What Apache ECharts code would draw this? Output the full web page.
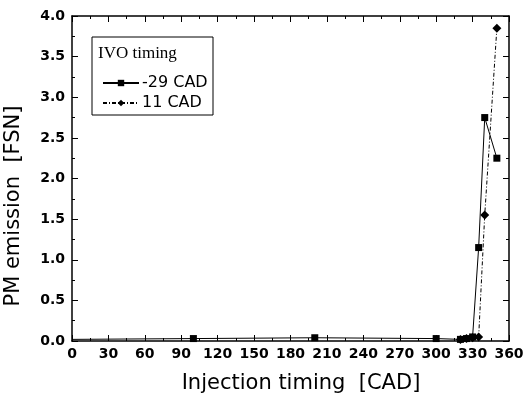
<!DOCTYPE html>
<html>
<head>
<meta charset="utf-8">
<script src="https://cdn.jsdelivr.net/npm/echarts@6/dist/echarts.min.js"></script>
<style>
  html, body { margin: 0; padding: 0; background: #fff; }
  #chart { width: 532px; height: 399px; }
</style>
</head>
<body>
<div id="chart"></div>
<script>
// injection timing [CAD] and PM emission [FSN]
var timingA = [0, 100, 200, 300, 320, 325, 330, 335, 340, 350]
var pmA = [0.02, 0.03, 0.04, 0.03, 0.02, 0.03, 0.05, 1.15, 2.75, 2.25]
var timingB = [320, 325, 330, 335, 340, 350]
var pmB = [0.02, 0.03, 0.04, 0.05, 1.55, 3.85]
var nameA = '-29 CAD'
var nameB = '11 CAD'

function pairs(xs, ys) {
  return xs.map(function (x, i) {
    // the first point sits on the y axis, its marker is not drawn
    if (x === 0) return { value: [x, ys[i]], symbol: 'none' }
    return [x, ys[i]]
  })
}

var font = 'DejaVu Sans'
var chart = echarts.init(document.getElementById('chart'))

var axisCommon = {
  axisLine: { show: true, onZero: false, lineStyle: { color: '#000', width: 1.5 } },
  axisTick: { show: true, inside: true, length: 6, lineStyle: { color: '#000' } },
  minorTick: { show: true, splitNumber: 2, length: 3, lineStyle: { color: '#000' } },
  splitLine: { show: false }
}

chart.setOption({
  animation: false,
  grid: { left: 72, right: 23, top: 16, bottom: 58 },
  graphic: [{
    type: 'rect',
    shape: { x: 92, y: 37, width: 121, height: 78 },
    style: { fill: '#fff', stroke: '#000', lineWidth: 1 },
    z: 10
  }, {
    type: 'text',
    x: 98, y: 45,
    style: { text: 'IVO timing', font: '17px "Liberation Serif"', fill: '#000' },
    z: 11
  }, {
    type: 'text',
    x: 301, y: 384,
    style: {
      text: 'Injection timing  [CAD]', font: '21px "DejaVu Sans"', fill: '#000',
      align: 'center', verticalAlign: 'middle'
    }
  }, {
    type: 'text',
    x: 14, y: 206, rotation: Math.PI / 2,
    style: {
      text: 'PM emission  [FSN]', font: '21px "DejaVu Sans"', fill: '#000',
      align: 'center', verticalAlign: 'middle'
    }
  }],
  legend: {
    orient: 'vertical',
    left: 97, top: 70,
    itemWidth: 36, itemHeight: 8, itemGap: 4,
    textStyle: { fontFamily: font, fontSize: 16, color: '#000', padding: [0, 0, 0, -2] },
    data: [nameA, nameB],
    z: 12
  },
  xAxis: [Object.assign({
    type: 'value', min: 0, max: 360, interval: 30,
    axisLabel: { fontFamily: font, fontSize: 14, fontWeight: 'bold', color: '#000', margin: 6 }
  }, axisCommon), Object.assign({
    type: 'value', min: 0, max: 360, interval: 30, position: 'top',
    axisLabel: { show: false }
  }, axisCommon)],
  yAxis: [Object.assign({
    type: 'value', min: 0, max: 4, interval: 0.5,
    axisLabel: { fontFamily: font, fontSize: 14, fontWeight: 'bold', color: '#000', margin: 7,
      formatter: function (v) { return v.toFixed(1) } }
  }, axisCommon), Object.assign({
    type: 'value', min: 0, max: 4, interval: 0.5, position: 'right',
    axisLabel: { show: false }
  }, axisCommon)],
  series: [{
    name: nameA,
    type: 'line',
    data: pairs(timingA, pmA),
    symbol: 'rect', symbolSize: 7,
    lineStyle: { color: '#000', width: 1 },
    itemStyle: { color: '#000' }
  }, {
    name: nameB,
    type: 'line',
    data: pairs(timingB, pmB),
    symbol: 'diamond', symbolSize: 9,
    lineStyle: { color: '#000', width: 1, type: [4, 2, 1, 2] },
    itemStyle: { color: '#000' }
  }]
})
</script>
</body>
</html>
